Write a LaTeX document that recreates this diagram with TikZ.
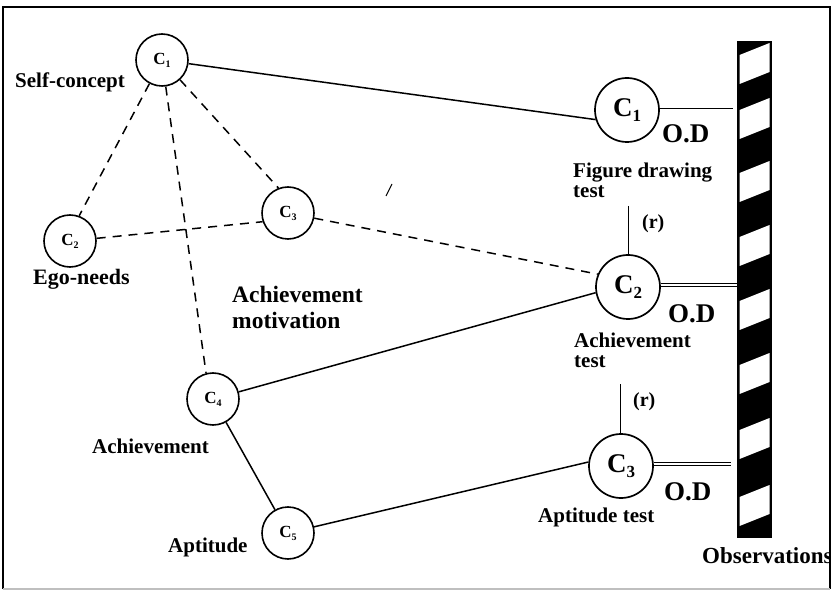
\documentclass[tikz,border=0pt]{standalone}
\usepackage{fontspec}
\setmainfont{Liberation Serif}
\usetikzlibrary{calc}
\newcommand\fsz[1]{\fontsize{#1}{#1}\selectfont}
\newcommand\myCb[1]{{\fsz{27}C}\raisebox{-5pt}{\fsz{17}#1}}
\newcommand\myCs[1]{{\fsz{17}C}\raisebox{-3pt}{\fsz{10}#1}}
\begin{document}
\begin{tikzpicture}[x=1pt,y=-1pt,
  every node/.style={font=\bfseries},
  bigcirc/.style={circle,draw,line width=1.7pt,minimum size=64pt,inner sep=0pt},
  smallcirc/.style={circle,draw,line width=1.6pt,minimum size=52pt,inner sep=0pt},
  lbl/.style={inner sep=0pt,anchor=base west,font=\bfseries\fsz{21}},
  conn/.style={line width=1.5pt},
  dconn/.style={line width=1.5pt,dash pattern=on 9pt off 7pt},
  obs/.style={double,line width=0.9pt,double distance=2.2pt}]
\useasboundingbox (0,0) rectangle (832,593);
% frame
\draw[line width=1.4pt] (3,589) -- (3,7) -- (830,7) -- (830,589);
\draw[black!25,line width=1.5pt] (3,589) -- (830,589);
% construct nodes
\node[smallcirc] (c1) at (162,60) {\myCs{1}};
\node[smallcirc] (ego) at (70,241) {\myCs{2}};
\node[smallcirc] (c3m) at (288,213) {\myCs{3}};
\node[smallcirc] (c4) at (213,399) {\myCs{4}};
\node[smallcirc] (c5) at (288,533) {\myCs{5}};
\node[bigcirc] (C1R) at (627,110) {\myCb{1}};
\node[bigcirc] (C2R) at (628,287) {\myCb{2}};
\node[bigcirc] (C3R) at (621,466) {\myCb{3}};
% observation bar
\node[fill=black,minimum width=35pt,minimum height=497pt,inner sep=0pt,anchor=north west] (bar) at (737,41) {};
\begin{scope}
\clip (bar.north west) rectangle (bar.south east);
\foreach \y in {55,110,173,237,301,365,430,497}
  \fill[white] (739.5,\y) -- (769.5,\y-12) -- (769.5,\y+17) -- (739.5,\y+29) -- cycle;
\end{scope}
% dashed connectors
\draw[dconn] (c1) -- (ego.70);
\draw[dconn] (c1) -- (c4.105);
\draw[dconn] (c1) -- (c3m.111);
\draw[dconn] (ego) -- (c3m.199);
\draw[dconn] (c3m) -- (C2R.157);
% solid connectors
\draw[conn] (c1) -- (C1R.197);
\draw[conn] (c4) -- (C2R.190);
\draw[conn] (c4) -- (c5);
\draw[conn] (c5) -- (C3R.173);
% (r) links
\coordinate (r1) at (628,206);
\coordinate (r2) at (620,384);
\draw[line width=1pt] (r1) -- (r1 |- C2R.north);
\draw[line width=1pt] (r2) -- (r2 |- C3R.north);
\node[lbl,font=\bfseries\fsz{20}] (rl1) at (642,229) {(r)};
\node[lbl,font=\bfseries\fsz{20}] (rl2) at (633,406) {(r)};
% observation links
\draw[obs] (C1R.6) -- ($(C1R.6 -| bar.west)+(-4,0)$);
\draw[obs] (C2R.4) -- (C2R.4 -| bar.west);
\draw[obs] (C3R.4) -- ($(C3R.4 -| bar.west)+(-6,0)$);
\node[lbl,font=\bfseries\fsz{27}] (od1) at (662,143) {O.D};
\node[lbl,font=\bfseries\fsz{27}] (od2) at (668,323) {O.D};
\node[lbl,font=\bfseries\fsz{27}] (od3) at (664,500) {O.D};
% labels
\node[lbl] (lself) at (15,88) {Self-concept};
\node[lbl,font=\bfseries\fsz{22}] (lego) at (33,285) {Ego-needs};
\node[lbl,font=\bfseries\fontsize{23.5}{25}\selectfont,align=left] (lam) at (232,328) {Achievement\\motivation};
\node[lbl,font=\bfseries\fontsize{21}{20}\selectfont,align=left] (lfig) at (573,198) {Figure drawing\\test};
\node[lbl,font=\bfseries\fontsize{21}{20}\selectfont,align=left] (lach) at (574,367) {Achievement\\test};
\node[lbl] (lapt) at (538,522) {Aptitude test};
\node[lbl] (la4) at (92,453) {Achievement};
\node[lbl] (la5) at (168,552) {Aptitude};
\begin{scope}
\clip (0,0) rectangle (829,593);
\node[lbl,font=\bfseries\fsz{23}] (lobs) at (702,563) {Observations};
\end{scope}
% stray mark
\draw[line width=1pt] (386,196) -- (392,184);
\end{tikzpicture}
\end{document}
